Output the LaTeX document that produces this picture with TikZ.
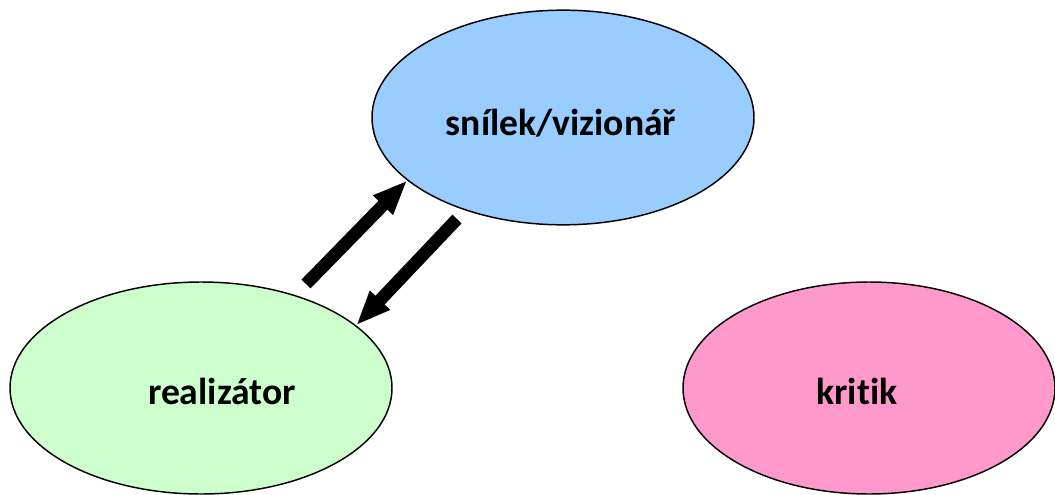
\documentclass[tikz,border=0pt]{standalone}
\usepackage{fontspec}
\setmainfont[Ligatures=NoCommon]{Carlito}
\usetikzlibrary{shapes.geometric,arrows.meta}
\definecolor{vizblue}{HTML}{99CCFF}
\definecolor{realgreen}{HTML}{CCFFCC}
\definecolor{kritpink}{HTML}{FF99CC}

\begin{document}
\begin{tikzpicture}[x=0.75pt,y=-0.75pt,
		role/.style={ellipse, draw=black, line width=1.1pt, inner sep=0pt, minimum width=286.5pt, minimum height=159pt},
		role text/.style={font=\fontsize{28.2}{33}\selectfont\bfseries},
		flow/.style={line width=9.5pt, -{Triangle[length=26pt,width=19pt]}}
			]
	\useasboundingbox (0,0) rectangle (1055,495);
	
	\node[role, fill=vizblue, minimum height=161pt] (viz) at (563,117.5) {};
	\node[role text] (viztext) at (561,123) {snílek/vizionář};
	\node[role, fill=realgreen] (real) at (201,388) {};
	\node[role text] (realtext) at (222,391) {realizátor};
	\node[role, fill=kritpink, minimum width=279pt] (krit) at (869,388) {};
	\node[role text] (krittext) at (857,391) {kritik};
	
	\coordinate (uptail) at (306,284);
	\coordinate (downtail) at (457,219);
	\draw[flow] (uptail) -- (viz.202);
	\draw[flow] (downtail) -- (real.22);
\end{tikzpicture}
\end{document}
